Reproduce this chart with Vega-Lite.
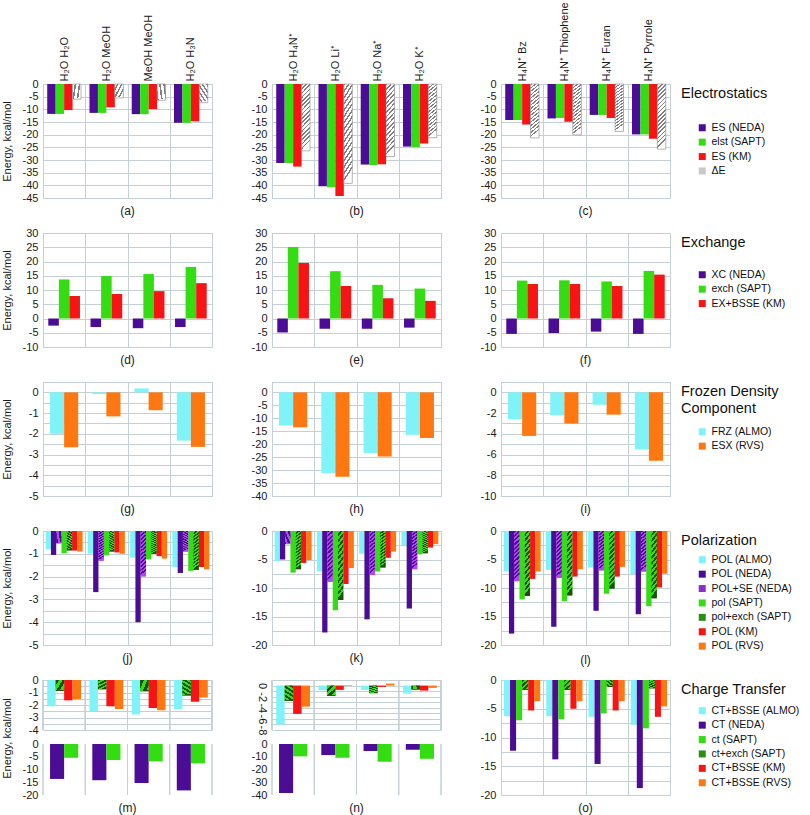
{
"$schema": "https://vega.github.io/schema/vega-lite/v6.json",
"padding": {"top": 1, "left": 0, "right": 0, "bottom": 0},
"autosize": {"type": "pad"},
"background": "white",
"params": [
{"name": "hatchDE", "value": {"gradient": "linear", "x1": 0, "y1": 0, "x2": 0.13, "y2": 1, "stops": [
{"offset":0,"color":"#808080"},{"offset":0.025,"color":"#808080"},{"offset":0.025,"color":"#FFFFFF"},{"offset":0.0625,"color":"#FFFFFF"},
{"offset":0.0625,"color":"#808080"},{"offset":0.0875,"color":"#808080"},{"offset":0.0875,"color":"#FFFFFF"},{"offset":0.125,"color":"#FFFFFF"},
{"offset":0.125,"color":"#808080"},{"offset":0.15,"color":"#808080"},{"offset":0.15,"color":"#FFFFFF"},{"offset":0.1875,"color":"#FFFFFF"},
{"offset":0.1875,"color":"#808080"},{"offset":0.2125,"color":"#808080"},{"offset":0.2125,"color":"#FFFFFF"},{"offset":0.25,"color":"#FFFFFF"},
{"offset":0.25,"color":"#808080"},{"offset":0.275,"color":"#808080"},{"offset":0.275,"color":"#FFFFFF"},{"offset":0.3125,"color":"#FFFFFF"},
{"offset":0.3125,"color":"#808080"},{"offset":0.3375,"color":"#808080"},{"offset":0.3375,"color":"#FFFFFF"},{"offset":0.375,"color":"#FFFFFF"},
{"offset":0.375,"color":"#808080"},{"offset":0.4,"color":"#808080"},{"offset":0.4,"color":"#FFFFFF"},{"offset":0.4375,"color":"#FFFFFF"},
{"offset":0.4375,"color":"#808080"},{"offset":0.4625,"color":"#808080"},{"offset":0.4625,"color":"#FFFFFF"},{"offset":0.5,"color":"#FFFFFF"},
{"offset":0.5,"color":"#808080"},{"offset":0.525,"color":"#808080"},{"offset":0.525,"color":"#FFFFFF"},{"offset":0.5625,"color":"#FFFFFF"},
{"offset":0.5625,"color":"#808080"},{"offset":0.5875,"color":"#808080"},{"offset":0.5875,"color":"#FFFFFF"},{"offset":0.625,"color":"#FFFFFF"},
{"offset":0.625,"color":"#808080"},{"offset":0.65,"color":"#808080"},{"offset":0.65,"color":"#FFFFFF"},{"offset":0.6875,"color":"#FFFFFF"},
{"offset":0.6875,"color":"#808080"},{"offset":0.7125,"color":"#808080"},{"offset":0.7125,"color":"#FFFFFF"},{"offset":0.75,"color":"#FFFFFF"},
{"offset":0.75,"color":"#808080"},{"offset":0.775,"color":"#808080"},{"offset":0.775,"color":"#FFFFFF"},{"offset":0.8125,"color":"#FFFFFF"},
{"offset":0.8125,"color":"#808080"},{"offset":0.8375,"color":"#808080"},{"offset":0.8375,"color":"#FFFFFF"},{"offset":0.875,"color":"#FFFFFF"},
{"offset":0.875,"color":"#808080"},{"offset":0.9,"color":"#808080"},{"offset":0.9,"color":"#FFFFFF"},{"offset":0.9375,"color":"#FFFFFF"},
{"offset":0.9375,"color":"#808080"},{"offset":0.9625,"color":"#808080"},{"offset":0.9625,"color":"#FFFFFF"},{"offset":1,"color":"#FFFFFF"}]}},
{"name": "hatchPurple", "value": {"gradient": "linear", "x1": 0, "y1": 0, "x2": 0.1, "y2": 1, "stops": [
{"offset":0,"color":"#4B0C96"},{"offset":0.0417,"color":"#4B0C96"},{"offset":0.0417,"color":"#B845F5"},{"offset":0.0833,"color":"#B845F5"},
{"offset":0.0833,"color":"#4B0C96"},{"offset":0.125,"color":"#4B0C96"},{"offset":0.125,"color":"#B845F5"},{"offset":0.1667,"color":"#B845F5"},
{"offset":0.1667,"color":"#4B0C96"},{"offset":0.2083,"color":"#4B0C96"},{"offset":0.2083,"color":"#B845F5"},{"offset":0.25,"color":"#B845F5"},
{"offset":0.25,"color":"#4B0C96"},{"offset":0.2917,"color":"#4B0C96"},{"offset":0.2917,"color":"#B845F5"},{"offset":0.3333,"color":"#B845F5"},
{"offset":0.3333,"color":"#4B0C96"},{"offset":0.375,"color":"#4B0C96"},{"offset":0.375,"color":"#B845F5"},{"offset":0.4167,"color":"#B845F5"},
{"offset":0.4167,"color":"#4B0C96"},{"offset":0.4583,"color":"#4B0C96"},{"offset":0.4583,"color":"#B845F5"},{"offset":0.5,"color":"#B845F5"},
{"offset":0.5,"color":"#4B0C96"},{"offset":0.5417,"color":"#4B0C96"},{"offset":0.5417,"color":"#B845F5"},{"offset":0.5833,"color":"#B845F5"},
{"offset":0.5833,"color":"#4B0C96"},{"offset":0.625,"color":"#4B0C96"},{"offset":0.625,"color":"#B845F5"},{"offset":0.6667,"color":"#B845F5"},
{"offset":0.6667,"color":"#4B0C96"},{"offset":0.7083,"color":"#4B0C96"},{"offset":0.7083,"color":"#B845F5"},{"offset":0.75,"color":"#B845F5"},
{"offset":0.75,"color":"#4B0C96"},{"offset":0.7917,"color":"#4B0C96"},{"offset":0.7917,"color":"#B845F5"},{"offset":0.8333,"color":"#B845F5"},
{"offset":0.8333,"color":"#4B0C96"},{"offset":0.875,"color":"#4B0C96"},{"offset":0.875,"color":"#B845F5"},{"offset":0.9167,"color":"#B845F5"},
{"offset":0.9167,"color":"#4B0C96"},{"offset":0.9583,"color":"#4B0C96"},{"offset":0.9583,"color":"#B845F5"},{"offset":1,"color":"#B845F5"}]}},
{"name": "hatchGreen", "value": {"gradient": "linear", "x1": 0, "y1": 0, "x2": 0.1, "y2": 1, "stops": [
{"offset":0,"color":"#33DD11"},{"offset":0.0417,"color":"#33DD11"},{"offset":0.0417,"color":"#1B4F0B"},{"offset":0.0833,"color":"#1B4F0B"},
{"offset":0.0833,"color":"#33DD11"},{"offset":0.125,"color":"#33DD11"},{"offset":0.125,"color":"#1B4F0B"},{"offset":0.1667,"color":"#1B4F0B"},
{"offset":0.1667,"color":"#33DD11"},{"offset":0.2083,"color":"#33DD11"},{"offset":0.2083,"color":"#1B4F0B"},{"offset":0.25,"color":"#1B4F0B"},
{"offset":0.25,"color":"#33DD11"},{"offset":0.2917,"color":"#33DD11"},{"offset":0.2917,"color":"#1B4F0B"},{"offset":0.3333,"color":"#1B4F0B"},
{"offset":0.3333,"color":"#33DD11"},{"offset":0.375,"color":"#33DD11"},{"offset":0.375,"color":"#1B4F0B"},{"offset":0.4167,"color":"#1B4F0B"},
{"offset":0.4167,"color":"#33DD11"},{"offset":0.4583,"color":"#33DD11"},{"offset":0.4583,"color":"#1B4F0B"},{"offset":0.5,"color":"#1B4F0B"},
{"offset":0.5,"color":"#33DD11"},{"offset":0.5417,"color":"#33DD11"},{"offset":0.5417,"color":"#1B4F0B"},{"offset":0.5833,"color":"#1B4F0B"},
{"offset":0.5833,"color":"#33DD11"},{"offset":0.625,"color":"#33DD11"},{"offset":0.625,"color":"#1B4F0B"},{"offset":0.6667,"color":"#1B4F0B"},
{"offset":0.6667,"color":"#33DD11"},{"offset":0.7083,"color":"#33DD11"},{"offset":0.7083,"color":"#1B4F0B"},{"offset":0.75,"color":"#1B4F0B"},
{"offset":0.75,"color":"#33DD11"},{"offset":0.7917,"color":"#33DD11"},{"offset":0.7917,"color":"#1B4F0B"},{"offset":0.8333,"color":"#1B4F0B"},
{"offset":0.8333,"color":"#33DD11"},{"offset":0.875,"color":"#33DD11"},{"offset":0.875,"color":"#1B4F0B"},{"offset":0.9167,"color":"#1B4F0B"},
{"offset":0.9167,"color":"#33DD11"},{"offset":0.9583,"color":"#33DD11"},{"offset":0.9583,"color":"#1B4F0B"},{"offset":1,"color":"#1B4F0B"}]}}
],
"datasets": {
"es": [
{"panel":"a","pair":"H₂O H₂O","method":"ES (NEDA)","value":-11.8},{"panel":"a","pair":"H₂O H₂O","method":"elst (SAPT)","value":-11.8},{"panel":"a","pair":"H₂O H₂O","method":"ES (KM)","value":-10.3},{"panel":"a","pair":"H₂O H₂O","method":"ΔE","value":-6.0},
{"panel":"a","pair":"H₂O MeOH","method":"ES (NEDA)","value":-11.4},{"panel":"a","pair":"H₂O MeOH","method":"elst (SAPT)","value":-11.4},{"panel":"a","pair":"H₂O MeOH","method":"ES (KM)","value":-9.2},{"panel":"a","pair":"H₂O MeOH","method":"ΔE","value":-5.5},
{"panel":"a","pair":"MeOH MeOH","method":"ES (NEDA)","value":-11.9},{"panel":"a","pair":"MeOH MeOH","method":"elst (SAPT)","value":-11.9},{"panel":"a","pair":"MeOH MeOH","method":"ES (KM)","value":-9.9},{"panel":"a","pair":"MeOH MeOH","method":"ΔE","value":-6.4},
{"panel":"a","pair":"H₂O H₃N","method":"ES (NEDA)","value":-15.3},{"panel":"a","pair":"H₂O H₃N","method":"elst (SAPT)","value":-15.3},{"panel":"a","pair":"H₂O H₃N","method":"ES (KM)","value":-14.7},{"panel":"a","pair":"H₂O H₃N","method":"ΔE","value":-7.4},
{"panel":"b","pair":"H₂O H₄N⁺","method":"ES (NEDA)","value":-31.2},{"panel":"b","pair":"H₂O H₄N⁺","method":"elst (SAPT)","value":-31.2},{"panel":"b","pair":"H₂O H₄N⁺","method":"ES (KM)","value":-32.6},{"panel":"b","pair":"H₂O H₄N⁺","method":"ΔE","value":-26.4},
{"panel":"b","pair":"H₂O Li⁺","method":"ES (NEDA)","value":-40.4},{"panel":"b","pair":"H₂O Li⁺","method":"elst (SAPT)","value":-40.8},{"panel":"b","pair":"H₂O Li⁺","method":"ES (KM)","value":-44.2},{"panel":"b","pair":"H₂O Li⁺","method":"ΔE","value":-39.2},
{"panel":"b","pair":"H₂O Na⁺","method":"ES (NEDA)","value":-31.8},{"panel":"b","pair":"H₂O Na⁺","method":"elst (SAPT)","value":-32.0},{"panel":"b","pair":"H₂O Na⁺","method":"ES (KM)","value":-31.7},{"panel":"b","pair":"H₂O Na⁺","method":"ΔE","value":-28.6},
{"panel":"b","pair":"H₂O K⁺","method":"ES (NEDA)","value":-24.7},{"panel":"b","pair":"H₂O K⁺","method":"elst (SAPT)","value":-24.9},{"panel":"b","pair":"H₂O K⁺","method":"ES (KM)","value":-23.5},{"panel":"b","pair":"H₂O K⁺","method":"ΔE","value":-21.2},
{"panel":"c","pair":"H₄N⁺ Bz","method":"ES (NEDA)","value":-14.2},{"panel":"c","pair":"H₄N⁺ Bz","method":"elst (SAPT)","value":-14.2},{"panel":"c","pair":"H₄N⁺ Bz","method":"ES (KM)","value":-16.0},{"panel":"c","pair":"H₄N⁺ Bz","method":"ΔE","value":-21.3},
{"panel":"c","pair":"H₄N⁺ Thiophene","method":"ES (NEDA)","value":-13.6},{"panel":"c","pair":"H₄N⁺ Thiophene","method":"elst (SAPT)","value":-13.4},{"panel":"c","pair":"H₄N⁺ Thiophene","method":"ES (KM)","value":-14.9},{"panel":"c","pair":"H₄N⁺ Thiophene","method":"ΔE","value":-20.1},
{"panel":"c","pair":"H₄N⁺ Furan","method":"ES (NEDA)","value":-12.2},{"panel":"c","pair":"H₄N⁺ Furan","method":"elst (SAPT)","value":-12.2},{"panel":"c","pair":"H₄N⁺ Furan","method":"ES (KM)","value":-13.4},{"panel":"c","pair":"H₄N⁺ Furan","method":"ΔE","value":-18.7},
{"panel":"c","pair":"H₄N⁺ Pyrrole","method":"ES (NEDA)","value":-19.9},{"panel":"c","pair":"H₄N⁺ Pyrrole","method":"elst (SAPT)","value":-19.9},{"panel":"c","pair":"H₄N⁺ Pyrrole","method":"ES (KM)","value":-21.6},{"panel":"c","pair":"H₄N⁺ Pyrrole","method":"ΔE","value":-25.7}
],
"ex": [
{"panel":"d","pair":"H₂O H₂O","method":"XC (NEDA)","value":-2.5},{"panel":"d","pair":"H₂O H₂O","method":"exch (SAPT)","value":13.7},{"panel":"d","pair":"H₂O H₂O","method":"EX+BSSE (KM)","value":7.9},
{"panel":"d","pair":"H₂O MeOH","method":"XC (NEDA)","value":-3.0},{"panel":"d","pair":"H₂O MeOH","method":"exch (SAPT)","value":14.9},{"panel":"d","pair":"H₂O MeOH","method":"EX+BSSE (KM)","value":8.6},
{"panel":"d","pair":"MeOH MeOH","method":"XC (NEDA)","value":-3.4},{"panel":"d","pair":"MeOH MeOH","method":"exch (SAPT)","value":15.6},{"panel":"d","pair":"MeOH MeOH","method":"EX+BSSE (KM)","value":9.6},
{"panel":"d","pair":"H₂O H₃N","method":"XC (NEDA)","value":-3.0},{"panel":"d","pair":"H₂O H₃N","method":"exch (SAPT)","value":18.1},{"panel":"d","pair":"H₂O H₃N","method":"EX+BSSE (KM)","value":12.4},
{"panel":"e","pair":"H₂O H₄N⁺","method":"XC (NEDA)","value":-4.9},{"panel":"e","pair":"H₂O H₄N⁺","method":"exch (SAPT)","value":25.1},{"panel":"e","pair":"H₂O H₄N⁺","method":"EX+BSSE (KM)","value":19.5},
{"panel":"e","pair":"H₂O Li⁺","method":"XC (NEDA)","value":-3.6},{"panel":"e","pair":"H₂O Li⁺","method":"exch (SAPT)","value":16.6},{"panel":"e","pair":"H₂O Li⁺","method":"EX+BSSE (KM)","value":11.4},
{"panel":"e","pair":"H₂O Na⁺","method":"XC (NEDA)","value":-3.6},{"panel":"e","pair":"H₂O Na⁺","method":"exch (SAPT)","value":11.8},{"panel":"e","pair":"H₂O Na⁺","method":"EX+BSSE (KM)","value":7.1},
{"panel":"e","pair":"H₂O K⁺","method":"XC (NEDA)","value":-3.2},{"panel":"e","pair":"H₂O K⁺","method":"exch (SAPT)","value":10.5},{"panel":"e","pair":"H₂O K⁺","method":"EX+BSSE (KM)","value":6.2},
{"panel":"f","pair":"H₄N⁺ Bz","method":"XC (NEDA)","value":-5.4},{"panel":"f","pair":"H₄N⁺ Bz","method":"exch (SAPT)","value":13.3},{"panel":"f","pair":"H₄N⁺ Bz","method":"EX+BSSE (KM)","value":12.1},
{"panel":"f","pair":"H₄N⁺ Thiophene","method":"XC (NEDA)","value":-5.1},{"panel":"f","pair":"H₄N⁺ Thiophene","method":"exch (SAPT)","value":13.4},{"panel":"f","pair":"H₄N⁺ Thiophene","method":"EX+BSSE (KM)","value":12.1},
{"panel":"f","pair":"H₄N⁺ Furan","method":"XC (NEDA)","value":-4.6},{"panel":"f","pair":"H₄N⁺ Furan","method":"exch (SAPT)","value":13.0},{"panel":"f","pair":"H₄N⁺ Furan","method":"EX+BSSE (KM)","value":11.4},
{"panel":"f","pair":"H₄N⁺ Pyrrole","method":"XC (NEDA)","value":-5.4},{"panel":"f","pair":"H₄N⁺ Pyrrole","method":"exch (SAPT)","value":16.7},{"panel":"f","pair":"H₄N⁺ Pyrrole","method":"EX+BSSE (KM)","value":15.4}
],
"frz": [
{"panel":"g","pair":"H₂O H₂O","method":"FRZ (ALMO)","value":-2.0},{"panel":"g","pair":"H₂O H₂O","method":"ESX (RVS)","value":-2.65},
{"panel":"g","pair":"H₂O MeOH","method":"FRZ (ALMO)","value":-0.08},{"panel":"g","pair":"H₂O MeOH","method":"ESX (RVS)","value":-1.16},
{"panel":"g","pair":"MeOH MeOH","method":"FRZ (ALMO)","value":0.19},{"panel":"g","pair":"MeOH MeOH","method":"ESX (RVS)","value":-0.86},
{"panel":"g","pair":"H₂O H₃N","method":"FRZ (ALMO)","value":-2.33},{"panel":"g","pair":"H₂O H₃N","method":"ESX (RVS)","value":-2.63},
{"panel":"h","pair":"H₂O H₄N⁺","method":"FRZ (ALMO)","value":-12.8},{"panel":"h","pair":"H₂O H₄N⁺","method":"ESX (RVS)","value":-13.5},
{"panel":"h","pair":"H₂O Li⁺","method":"FRZ (ALMO)","value":-31.1},{"panel":"h","pair":"H₂O Li⁺","method":"ESX (RVS)","value":-32.6},
{"panel":"h","pair":"H₂O Na⁺","method":"FRZ (ALMO)","value":-23.4},{"panel":"h","pair":"H₂O Na⁺","method":"ESX (RVS)","value":-24.8},
{"panel":"h","pair":"H₂O K⁺","method":"FRZ (ALMO)","value":-16.4},{"panel":"h","pair":"H₂O K⁺","method":"ESX (RVS)","value":-17.6},
{"panel":"i","pair":"H₄N⁺ Bz","method":"FRZ (ALMO)","value":-2.6},{"panel":"i","pair":"H₄N⁺ Bz","method":"ESX (RVS)","value":-4.2},
{"panel":"i","pair":"H₄N⁺ Thiophene","method":"FRZ (ALMO)","value":-2.2},{"panel":"i","pair":"H₄N⁺ Thiophene","method":"ESX (RVS)","value":-3.0},
{"panel":"i","pair":"H₄N⁺ Furan","method":"FRZ (ALMO)","value":-1.2},{"panel":"i","pair":"H₄N⁺ Furan","method":"ESX (RVS)","value":-2.15},
{"panel":"i","pair":"H₄N⁺ Pyrrole","method":"FRZ (ALMO)","value":-5.5},{"panel":"i","pair":"H₄N⁺ Pyrrole","method":"ESX (RVS)","value":-6.6}
],
"pol": [
{"panel":"j","pair":"H₂O H₂O","method":"POL (ALMO)","value":-0.8},{"panel":"j","pair":"H₂O H₂O","method":"POL (NEDA)","value":-1.05},{"panel":"j","pair":"H₂O H₂O","method":"POL+SE (NEDA)","value":-0.54},{"panel":"j","pair":"H₂O H₂O","method":"pol (SAPT)","value":-0.98},{"panel":"j","pair":"H₂O H₂O","method":"pol+exch (SAPT)","value":-0.85},{"panel":"j","pair":"H₂O H₂O","method":"POL (KM)","value":-0.86},{"panel":"j","pair":"H₂O H₂O","method":"POL (RVS)","value":-0.9},
{"panel":"j","pair":"H₂O MeOH","method":"POL (ALMO)","value":-0.98},{"panel":"j","pair":"H₂O MeOH","method":"POL (NEDA)","value":-2.68},{"panel":"j","pair":"H₂O MeOH","method":"POL+SE (NEDA)","value":-1.3},{"panel":"j","pair":"H₂O MeOH","method":"pol (SAPT)","value":-1.07},{"panel":"j","pair":"H₂O MeOH","method":"pol+exch (SAPT)","value":-0.9},{"panel":"j","pair":"H₂O MeOH","method":"POL (KM)","value":-0.94},{"panel":"j","pair":"H₂O MeOH","method":"POL (RVS)","value":-1.0},
{"panel":"j","pair":"MeOH MeOH","method":"POL (ALMO)","value":-1.17},{"panel":"j","pair":"MeOH MeOH","method":"POL (NEDA)","value":-4.0},{"panel":"j","pair":"MeOH MeOH","method":"POL+SE (NEDA)","value":-1.99},{"panel":"j","pair":"MeOH MeOH","method":"pol (SAPT)","value":-1.24},{"panel":"j","pair":"MeOH MeOH","method":"pol+exch (SAPT)","value":-1.0},{"panel":"j","pair":"MeOH MeOH","method":"POL (KM)","value":-1.1},{"panel":"j","pair":"MeOH MeOH","method":"POL (RVS)","value":-1.21},
{"panel":"j","pair":"H₂O H₃N","method":"POL (ALMO)","value":-1.58},{"panel":"j","pair":"H₂O H₃N","method":"POL (NEDA)","value":-1.84},{"panel":"j","pair":"H₂O H₃N","method":"POL+SE (NEDA)","value":-0.9},{"panel":"j","pair":"H₂O H₃N","method":"pol (SAPT)","value":-1.75},{"panel":"j","pair":"H₂O H₃N","method":"pol+exch (SAPT)","value":-1.7},{"panel":"j","pair":"H₂O H₃N","method":"POL (KM)","value":-1.58},{"panel":"j","pair":"H₂O H₃N","method":"POL (RVS)","value":-1.68},
{"panel":"k","pair":"H₂O H₄N⁺","method":"POL (ALMO)","value":-5.3},{"panel":"k","pair":"H₂O H₄N⁺","method":"POL (NEDA)","value":-5.0},{"panel":"k","pair":"H₂O H₄N⁺","method":"POL+SE (NEDA)","value":-2.3},{"panel":"k","pair":"H₂O H₄N⁺","method":"pol (SAPT)","value":-7.3},{"panel":"k","pair":"H₂O H₄N⁺","method":"pol+exch (SAPT)","value":-6.7},{"panel":"k","pair":"H₂O H₄N⁺","method":"POL (KM)","value":-5.6},{"panel":"k","pair":"H₂O H₄N⁺","method":"POL (RVS)","value":-5.1},
{"panel":"k","pair":"H₂O Li⁺","method":"POL (ALMO)","value":-7.1},{"panel":"k","pair":"H₂O Li⁺","method":"POL (NEDA)","value":-17.8},{"panel":"k","pair":"H₂O Li⁺","method":"POL+SE (NEDA)","value":-8.9},{"panel":"k","pair":"H₂O Li⁺","method":"pol (SAPT)","value":-13.9},{"panel":"k","pair":"H₂O Li⁺","method":"pol+exch (SAPT)","value":-12.1},{"panel":"k","pair":"H₂O Li⁺","method":"POL (KM)","value":-9.3},{"panel":"k","pair":"H₂O Li⁺","method":"POL (RVS)","value":-6.5},
{"panel":"k","pair":"H₂O Na⁺","method":"POL (ALMO)","value":-4.0},{"panel":"k","pair":"H₂O Na⁺","method":"POL (NEDA)","value":-15.5},{"panel":"k","pair":"H₂O Na⁺","method":"POL+SE (NEDA)","value":-7.7},{"panel":"k","pair":"H₂O Na⁺","method":"pol (SAPT)","value":-7.1},{"panel":"k","pair":"H₂O Na⁺","method":"pol+exch (SAPT)","value":-6.4},{"panel":"k","pair":"H₂O Na⁺","method":"POL (KM)","value":-4.7},{"panel":"k","pair":"H₂O Na⁺","method":"POL (RVS)","value":-3.6},
{"panel":"k","pair":"H₂O K⁺","method":"POL (ALMO)","value":-2.5},{"panel":"k","pair":"H₂O K⁺","method":"POL (NEDA)","value":-13.6},{"panel":"k","pair":"H₂O K⁺","method":"POL+SE (NEDA)","value":-6.7},{"panel":"k","pair":"H₂O K⁺","method":"pol (SAPT)","value":-4.1},{"panel":"k","pair":"H₂O K⁺","method":"pol+exch (SAPT)","value":-3.9},{"panel":"k","pair":"H₂O K⁺","method":"POL (KM)","value":-2.9},{"panel":"k","pair":"H₂O K⁺","method":"POL (RVS)","value":-2.3},
{"panel":"l","pair":"H₄N⁺ Bz","method":"POL (ALMO)","value":-7.1},{"panel":"l","pair":"H₄N⁺ Bz","method":"POL (NEDA)","value":-18.0},{"panel":"l","pair":"H₄N⁺ Bz","method":"POL+SE (NEDA)","value":-8.8},{"panel":"l","pair":"H₄N⁺ Bz","method":"pol (SAPT)","value":-12.0},{"panel":"l","pair":"H₄N⁺ Bz","method":"pol+exch (SAPT)","value":-11.4},{"panel":"l","pair":"H₄N⁺ Bz","method":"POL (KM)","value":-8.4},{"panel":"l","pair":"H₄N⁺ Bz","method":"POL (RVS)","value":-7.1},
{"panel":"l","pair":"H₄N⁺ Thiophene","method":"POL (ALMO)","value":-6.8},{"panel":"l","pair":"H₄N⁺ Thiophene","method":"POL (NEDA)","value":-16.8},{"panel":"l","pair":"H₄N⁺ Thiophene","method":"POL+SE (NEDA)","value":-8.2},{"panel":"l","pair":"H₄N⁺ Thiophene","method":"pol (SAPT)","value":-12.3},{"panel":"l","pair":"H₄N⁺ Thiophene","method":"pol+exch (SAPT)","value":-11.3},{"panel":"l","pair":"H₄N⁺ Thiophene","method":"POL (KM)","value":-8.0},{"panel":"l","pair":"H₄N⁺ Thiophene","method":"POL (RVS)","value":-6.7},
{"panel":"l","pair":"H₄N⁺ Furan","method":"POL (ALMO)","value":-6.4},{"panel":"l","pair":"H₄N⁺ Furan","method":"POL (NEDA)","value":-14.0},{"panel":"l","pair":"H₄N⁺ Furan","method":"POL+SE (NEDA)","value":-6.9},{"panel":"l","pair":"H₄N⁺ Furan","method":"pol (SAPT)","value":-11.0},{"panel":"l","pair":"H₄N⁺ Furan","method":"pol+exch (SAPT)","value":-10.1},{"panel":"l","pair":"H₄N⁺ Furan","method":"POL (KM)","value":-8.0},{"panel":"l","pair":"H₄N⁺ Furan","method":"POL (RVS)","value":-6.3},
{"panel":"l","pair":"H₄N⁺ Pyrrole","method":"POL (ALMO)","value":-7.6},{"panel":"l","pair":"H₄N⁺ Pyrrole","method":"POL (NEDA)","value":-14.6},{"panel":"l","pair":"H₄N⁺ Pyrrole","method":"POL+SE (NEDA)","value":-7.1},{"panel":"l","pair":"H₄N⁺ Pyrrole","method":"pol (SAPT)","value":-13.2},{"panel":"l","pair":"H₄N⁺ Pyrrole","method":"pol+exch (SAPT)","value":-11.8},{"panel":"l","pair":"H₄N⁺ Pyrrole","method":"POL (KM)","value":-9.9},{"panel":"l","pair":"H₄N⁺ Pyrrole","method":"POL (RVS)","value":-7.5}
],
"ct": [
{"panel":"m","pair":"H₂O H₂O","method":"CT+BSSE (ALMO)","value":-2.1},{"panel":"m","pair":"H₂O H₂O","method":"CT (NEDA)","value":-13.7},{"panel":"m","pair":"H₂O H₂O","method":"ct (SAPT)","value":-5.4},{"panel":"m","pair":"H₂O H₂O","method":"ct+exch (SAPT)","value":-0.87},{"panel":"m","pair":"H₂O H₂O","method":"CT+BSSE (KM)","value":-1.63},{"panel":"m","pair":"H₂O H₂O","method":"CT+BSSE (RVS)","value":-1.53},
{"panel":"m","pair":"H₂O MeOH","method":"CT+BSSE (ALMO)","value":-2.5},{"panel":"m","pair":"H₂O MeOH","method":"CT (NEDA)","value":-14.2},{"panel":"m","pair":"H₂O MeOH","method":"ct (SAPT)","value":-6.3},{"panel":"m","pair":"H₂O MeOH","method":"ct+exch (SAPT)","value":-0.74},{"panel":"m","pair":"H₂O MeOH","method":"CT+BSSE (KM)","value":-2.1},{"panel":"m","pair":"H₂O MeOH","method":"CT+BSSE (RVS)","value":-2.32},
{"panel":"m","pair":"MeOH MeOH","method":"CT+BSSE (ALMO)","value":-2.76},{"panel":"m","pair":"MeOH MeOH","method":"CT (NEDA)","value":-15.3},{"panel":"m","pair":"MeOH MeOH","method":"ct (SAPT)","value":-6.8},{"panel":"m","pair":"MeOH MeOH","method":"ct+exch (SAPT)","value":-0.9},{"panel":"m","pair":"MeOH MeOH","method":"CT+BSSE (KM)","value":-2.24},{"panel":"m","pair":"MeOH MeOH","method":"CT+BSSE (RVS)","value":-2.42},
{"panel":"m","pair":"H₂O H₃N","method":"CT+BSSE (ALMO)","value":-2.32},{"panel":"m","pair":"H₂O H₃N","method":"CT (NEDA)","value":-18.2},{"panel":"m","pair":"H₂O H₃N","method":"ct (SAPT)","value":-7.6},{"panel":"m","pair":"H₂O H₃N","method":"ct+exch (SAPT)","value":-1.24},{"panel":"m","pair":"H₂O H₃N","method":"CT+BSSE (KM)","value":-1.74},{"panel":"m","pair":"H₂O H₃N","method":"CT+BSSE (RVS)","value":-1.4},
{"panel":"n","pair":"H₂O H₄N⁺","method":"CT+BSSE (ALMO)","value":-7.0},{"panel":"n","pair":"H₂O H₄N⁺","method":"CT (NEDA)","value":-38.4},{"panel":"n","pair":"H₂O H₄N⁺","method":"ct (SAPT)","value":-9.7},{"panel":"n","pair":"H₂O H₄N⁺","method":"ct+exch (SAPT)","value":-2.75},{"panel":"n","pair":"H₂O H₄N⁺","method":"CT+BSSE (KM)","value":-5.1},{"panel":"n","pair":"H₂O H₄N⁺","method":"CT+BSSE (RVS)","value":-3.8},
{"panel":"n","pair":"H₂O Li⁺","method":"CT+BSSE (ALMO)","value":-0.84},{"panel":"n","pair":"H₂O Li⁺","method":"CT (NEDA)","value":-8.7},{"panel":"n","pair":"H₂O Li⁺","method":"ct (SAPT)","value":-10.8},{"panel":"n","pair":"H₂O Li⁺","method":"ct+exch (SAPT)","value":-1.85},{"panel":"n","pair":"H₂O Li⁺","method":"CT+BSSE (KM)","value":-0.78},{"panel":"n","pair":"H₂O Li⁺","method":"CT+BSSE (RVS)","value":0.1},
{"panel":"n","pair":"H₂O Na⁺","method":"CT+BSSE (ALMO)","value":-0.78},{"panel":"n","pair":"H₂O Na⁺","method":"CT (NEDA)","value":-5.5},{"panel":"n","pair":"H₂O Na⁺","method":"ct (SAPT)","value":-13.9},{"panel":"n","pair":"H₂O Na⁺","method":"ct+exch (SAPT)","value":-1.37},{"panel":"n","pair":"H₂O Na⁺","method":"CT+BSSE (KM)","value":-0.24},{"panel":"n","pair":"H₂O Na⁺","method":"CT+BSSE (RVS)","value":0.36},
{"panel":"n","pair":"H₂O K⁺","method":"CT+BSSE (ALMO)","value":-1.43},{"panel":"n","pair":"H₂O K⁺","method":"CT (NEDA)","value":-4.5},{"panel":"n","pair":"H₂O K⁺","method":"ct (SAPT)","value":-11.6},{"panel":"n","pair":"H₂O K⁺","method":"ct+exch (SAPT)","value":-0.72},{"panel":"n","pair":"H₂O K⁺","method":"CT+BSSE (KM)","value":-0.9},{"panel":"n","pair":"H₂O K⁺","method":"CT+BSSE (RVS)","value":-0.42},
{"panel":"o","pair":"H₄N⁺ Bz","method":"CT+BSSE (ALMO)","value":-6.3},{"panel":"o","pair":"H₄N⁺ Bz","method":"CT (NEDA)","value":-12.3},{"panel":"o","pair":"H₄N⁺ Bz","method":"ct (SAPT)","value":-7.0},{"panel":"o","pair":"H₄N⁺ Bz","method":"ct+exch (SAPT)","value":-1.7},{"panel":"o","pair":"H₄N⁺ Bz","method":"CT+BSSE (KM)","value":-5.3},{"panel":"o","pair":"H₄N⁺ Bz","method":"CT+BSSE (RVS)","value":-3.7},
{"panel":"o","pair":"H₄N⁺ Thiophene","method":"CT+BSSE (ALMO)","value":-6.3},{"panel":"o","pair":"H₄N⁺ Thiophene","method":"CT (NEDA)","value":-13.8},{"panel":"o","pair":"H₄N⁺ Thiophene","method":"ct (SAPT)","value":-6.8},{"panel":"o","pair":"H₄N⁺ Thiophene","method":"ct+exch (SAPT)","value":-1.7},{"panel":"o","pair":"H₄N⁺ Thiophene","method":"CT+BSSE (KM)","value":-5.0},{"panel":"o","pair":"H₄N⁺ Thiophene","method":"CT+BSSE (RVS)","value":-3.7},
{"panel":"o","pair":"H₄N⁺ Furan","method":"CT+BSSE (ALMO)","value":-6.4},{"panel":"o","pair":"H₄N⁺ Furan","method":"CT (NEDA)","value":-14.6},{"panel":"o","pair":"H₄N⁺ Furan","method":"ct (SAPT)","value":-5.8},{"panel":"o","pair":"H₄N⁺ Furan","method":"ct+exch (SAPT)","value":-1.2},{"panel":"o","pair":"H₄N⁺ Furan","method":"CT+BSSE (KM)","value":-5.3},{"panel":"o","pair":"H₄N⁺ Furan","method":"CT+BSSE (RVS)","value":-3.7},
{"panel":"o","pair":"H₄N⁺ Pyrrole","method":"CT+BSSE (ALMO)","value":-7.8},{"panel":"o","pair":"H₄N⁺ Pyrrole","method":"CT (NEDA)","value":-18.8},{"panel":"o","pair":"H₄N⁺ Pyrrole","method":"ct (SAPT)","value":-8.4},{"panel":"o","pair":"H₄N⁺ Pyrrole","method":"ct+exch (SAPT)","value":-1.45},{"panel":"o","pair":"H₄N⁺ Pyrrole","method":"CT+BSSE (KM)","value":-6.4},{"panel":"o","pair":"H₄N⁺ Pyrrole","method":"CT+BSSE (RVS)","value":-4.6}
]
},
"concat": [
{"width": 169, "height": 114, "data": {"name": "es"},
 "title": {"text": "(a)", "orient": "bottom", "offset": 3},
 "transform": [{"filter": "datum.panel === 'a'"}],
 "encoding": {
  "x": {"field": "pair", "type": "nominal", "sort": null, "scale": {"paddingInner": 0, "paddingOuter": 0}, "axis": {"orient": "top", "labels": true, "labelAngle": -90, "labelPadding": 3, "grid": true, "tickBand": "extent", "title": null, "domain": false, "ticks": false}},
  "xOffset": {"field": "method", "type": "nominal", "sort": null, "scale": {"domain": ["ES (NEDA)", "elst (SAPT)", "ES (KM)", "ΔE"], "paddingInner": 0, "paddingOuter": 0.5}},
  "y": {"field": "value", "type": "quantitative", "stack": null, "scale": {"domain": [-45, 0], "nice": false}, "axis": {"title": "Energy, kcal/mol", "values": [0,-5,-10,-15,-20,-25,-30,-35,-40,-45], "labelExpr": "toString(datum.value)"}}
 },
 "layer": [
  {"mark": {"type": "bar"}, "encoding": {"color": {"field": "method", "type": "nominal", "scale": {"domain": ["ES (NEDA)", "elst (SAPT)", "ES (KM)", "ΔE"], "range": ["#4B0C96", "#33DD11", "#F81414", "#C8C8C8"]}, "legend": null}}},
  {"transform": [{"filter": "datum.method === 'ΔE'"}], "mark": {"type": "bar", "fill": {"expr": "hatchDE"}, "stroke": "#8A8A8A", "strokeWidth": 0.6}}
 ]},
{"width": 169, "height": 114, "data": {"name": "es"},
 "title": {"text": "(b)", "orient": "bottom", "offset": 3},
 "transform": [{"filter": "datum.panel === 'b'"}],
 "encoding": {
  "x": {"field": "pair", "type": "nominal", "sort": null, "scale": {"paddingInner": 0, "paddingOuter": 0}, "axis": {"orient": "top", "labels": true, "labelAngle": -90, "labelPadding": 3, "grid": true, "tickBand": "extent", "title": null, "domain": false, "ticks": false}},
  "xOffset": {"field": "method", "type": "nominal", "sort": null, "scale": {"domain": ["ES (NEDA)", "elst (SAPT)", "ES (KM)", "ΔE"], "paddingInner": 0, "paddingOuter": 0.5}},
  "y": {"field": "value", "type": "quantitative", "stack": null, "scale": {"domain": [-45, 0], "nice": false}, "axis": {"title": null, "values": [0,-5,-10,-15,-20,-25,-30,-35,-40,-45], "labelExpr": "toString(datum.value)"}}
 },
 "layer": [
  {"mark": {"type": "bar"}, "encoding": {"color": {"field": "method", "type": "nominal", "scale": {"domain": ["ES (NEDA)", "elst (SAPT)", "ES (KM)", "ΔE"], "range": ["#4B0C96", "#33DD11", "#F81414", "#C8C8C8"]}, "legend": null}}},
  {"transform": [{"filter": "datum.method === 'ΔE'"}], "mark": {"type": "bar", "fill": {"expr": "hatchDE"}, "stroke": "#8A8A8A", "strokeWidth": 0.6}}
 ]},
{"width": 169, "height": 114, "data": {"name": "es"},
 "title": {"text": "(c)", "orient": "bottom", "offset": 3},
 "transform": [{"filter": "datum.panel === 'c'"}],
 "encoding": {
  "x": {"field": "pair", "type": "nominal", "sort": null, "scale": {"paddingInner": 0, "paddingOuter": 0}, "axis": {"orient": "top", "labels": true, "labelAngle": -90, "labelPadding": 3, "grid": true, "tickBand": "extent", "title": null, "domain": false, "ticks": false}},
  "xOffset": {"field": "method", "type": "nominal", "sort": null, "scale": {"domain": ["ES (NEDA)", "elst (SAPT)", "ES (KM)", "ΔE"], "paddingInner": 0, "paddingOuter": 0.5}},
  "y": {"field": "value", "type": "quantitative", "stack": null, "scale": {"domain": [-45, 0], "nice": false}, "axis": {"title": null, "values": [0,-5,-10,-15,-20,-25,-30,-35,-40,-45], "labelExpr": "toString(datum.value)"}}
 },
 "layer": [
  {"mark": {"type": "bar"}, "encoding": {"color": {"field": "method", "type": "nominal", "scale": {"domain": ["ES (NEDA)", "elst (SAPT)", "ES (KM)", "ΔE"], "range": ["#4B0C96", "#33DD11", "#F81414", "#C8C8C8"]}, "legend": {"title": "Electrostatics", "titlePadding": 24, "encode": {"title": {"update": {"dx": {"value": -16}, "dy": {"value": 3}}}}}}}},
  {"transform": [{"filter": "datum.method === 'ΔE'"}], "mark": {"type": "bar", "fill": {"expr": "hatchDE"}, "stroke": "#8A8A8A", "strokeWidth": 0.6}}
 ]},
{"width": 169, "height": 114, "data": {"name": "ex"},
 "title": {"text": "(d)", "orient": "bottom", "offset": 3},
 "transform": [{"filter": "datum.panel === 'd'"}],
 "mark": {"type": "bar"},
 "encoding": {
  "x": {"field": "pair", "type": "nominal", "sort": null, "scale": {"paddingInner": 0, "paddingOuter": 0}, "axis": {"labels": false, "grid": true, "tickBand": "extent", "title": null, "domain": false, "ticks": false}},
  "xOffset": {"field": "method", "type": "nominal", "sort": null, "scale": {"domain": ["XC (NEDA)", "exch (SAPT)", "EX+BSSE (KM)"], "paddingInner": 0, "paddingOuter": 0.5}},
  "y": {"field": "value", "type": "quantitative", "stack": null, "scale": {"domain": [-10, 30], "nice": false}, "axis": {"title": "Energy, kcal/mol", "values": [30,25,20,15,10,5,0,-5,-10], "labelExpr": "toString(datum.value)"}},
  "color": {"field": "method", "type": "nominal", "scale": {"domain": ["XC (NEDA)", "exch (SAPT)", "EX+BSSE (KM)"], "range": ["#4B0C96", "#33DD11", "#F81414"]}, "legend": null}
 }},
{"width": 169, "height": 114, "data": {"name": "ex"},
 "title": {"text": "(e)", "orient": "bottom", "offset": 3},
 "transform": [{"filter": "datum.panel === 'e'"}],
 "mark": {"type": "bar"},
 "encoding": {
  "x": {"field": "pair", "type": "nominal", "sort": null, "scale": {"paddingInner": 0, "paddingOuter": 0}, "axis": {"labels": false, "grid": true, "tickBand": "extent", "title": null, "domain": false, "ticks": false}},
  "xOffset": {"field": "method", "type": "nominal", "sort": null, "scale": {"domain": ["XC (NEDA)", "exch (SAPT)", "EX+BSSE (KM)"], "paddingInner": 0, "paddingOuter": 0.5}},
  "y": {"field": "value", "type": "quantitative", "stack": null, "scale": {"domain": [-10, 30], "nice": false}, "axis": {"title": null, "values": [30,25,20,15,10,5,0,-5,-10], "labelExpr": "toString(datum.value)"}},
  "color": {"field": "method", "type": "nominal", "scale": {"domain": ["XC (NEDA)", "exch (SAPT)", "EX+BSSE (KM)"], "range": ["#4B0C96", "#33DD11", "#F81414"]}, "legend": null}
 }},
{"width": 169, "height": 114, "data": {"name": "ex"},
 "title": {"text": "(f)", "orient": "bottom", "offset": 3},
 "transform": [{"filter": "datum.panel === 'f'"}],
 "mark": {"type": "bar"},
 "encoding": {
  "x": {"field": "pair", "type": "nominal", "sort": null, "scale": {"paddingInner": 0, "paddingOuter": 0}, "axis": {"labels": false, "grid": true, "tickBand": "extent", "title": null, "domain": false, "ticks": false}},
  "xOffset": {"field": "method", "type": "nominal", "sort": null, "scale": {"domain": ["XC (NEDA)", "exch (SAPT)", "EX+BSSE (KM)"], "paddingInner": 0, "paddingOuter": 0.5}},
  "y": {"field": "value", "type": "quantitative", "stack": null, "scale": {"domain": [-10, 30], "nice": false}, "axis": {"title": null, "values": [30,25,20,15,10,5,0,-5,-10], "labelExpr": "toString(datum.value)"}},
  "color": {"field": "method", "type": "nominal", "scale": {"domain": ["XC (NEDA)", "exch (SAPT)", "EX+BSSE (KM)"], "range": ["#4B0C96", "#33DD11", "#F81414"]}, "legend": {"title": "Exchange", "titlePadding": 22, "encode": {"title": {"update": {"dx": {"value": -16}, "dy": {"value": 3}}}}}}
 }},
{"width": 169, "height": 114, "data": {"name": "frz"},
 "title": {"text": "(g)", "orient": "bottom", "offset": 3},
 "transform": [{"filter": "datum.panel === 'g'"}],
 "mark": {"type": "bar"},
 "encoding": {
  "x": {"field": "pair", "type": "nominal", "sort": null, "scale": {"paddingInner": 0, "paddingOuter": 0}, "axis": {"labels": false, "grid": true, "tickBand": "extent", "title": null, "domain": false, "ticks": false}},
  "xOffset": {"field": "method", "type": "nominal", "sort": null, "scale": {"domain": ["FRZ (ALMO)", "ESX (RVS)"], "paddingInner": 0, "paddingOuter": 0.5}},
  "y": {"field": "value", "type": "quantitative", "stack": null, "scale": {"domain": [-5, 0.5], "nice": false}, "axis": {"title": "Energy, kcal/mol", "values": [0.5,0,-0.5,-1,-1.5,-2,-2.5,-3,-3.5,-4,-4.5,-5], "labelExpr": "datum.value % 1 === 0 ? toString(datum.value) : ''"}},
  "color": {"field": "method", "type": "nominal", "scale": {"domain": ["FRZ (ALMO)", "ESX (RVS)"], "range": ["#7FF3F8", "#FF7711"]}, "legend": null}
 }},
{"width": 169, "height": 114, "data": {"name": "frz"},
 "title": {"text": "(h)", "orient": "bottom", "offset": 3},
 "transform": [{"filter": "datum.panel === 'h'"}],
 "mark": {"type": "bar"},
 "encoding": {
  "x": {"field": "pair", "type": "nominal", "sort": null, "scale": {"paddingInner": 0, "paddingOuter": 0}, "axis": {"labels": false, "grid": true, "tickBand": "extent", "title": null, "domain": false, "ticks": false}},
  "xOffset": {"field": "method", "type": "nominal", "sort": null, "scale": {"domain": ["FRZ (ALMO)", "ESX (RVS)"], "paddingInner": 0, "paddingOuter": 0.5}},
  "y": {"field": "value", "type": "quantitative", "stack": null, "scale": {"domain": [-40, 4], "nice": false}, "axis": {"title": null, "values": [0,-5,-10,-15,-20,-25,-30,-35,-40], "labelExpr": "toString(datum.value)"}},
  "color": {"field": "method", "type": "nominal", "scale": {"domain": ["FRZ (ALMO)", "ESX (RVS)"], "range": ["#7FF3F8", "#FF7711"]}, "legend": null}
 }},
{"width": 169, "height": 114, "data": {"name": "frz"},
 "title": {"text": "(i)", "orient": "bottom", "offset": 3},
 "transform": [{"filter": "datum.panel === 'i'"}],
 "mark": {"type": "bar"},
 "encoding": {
  "x": {"field": "pair", "type": "nominal", "sort": null, "scale": {"paddingInner": 0, "paddingOuter": 0}, "axis": {"labels": false, "grid": true, "tickBand": "extent", "title": null, "domain": false, "ticks": false}},
  "xOffset": {"field": "method", "type": "nominal", "sort": null, "scale": {"domain": ["FRZ (ALMO)", "ESX (RVS)"], "paddingInner": 0, "paddingOuter": 0.5}},
  "y": {"field": "value", "type": "quantitative", "stack": null, "scale": {"domain": [-10, 1], "nice": false}, "axis": {"title": null, "values": [1,0,-1,-2,-3,-4,-5,-6,-7,-8,-9,-10], "labelExpr": "datum.value % 2 === 0 ? toString(datum.value) : ''"}},
  "color": {"field": "method", "type": "nominal", "scale": {"domain": ["FRZ (ALMO)", "ESX (RVS)"], "range": ["#7FF3F8", "#FF7711"]}, "legend": {"title": ["Frozen Density", "Component"], "titleLineHeight": 17, "titlePadding": 13, "encode": {"title": {"update": {"dx": {"value": -16}, "dy": {"value": 3}}}}}}
 }},
{"width": 169, "height": 114, "data": {"name": "pol"},
 "title": {"text": "(j)", "orient": "bottom", "offset": 3},
 "transform": [{"filter": "datum.panel === 'j'"}],
 "encoding": {
  "x": {"field": "pair", "type": "nominal", "sort": null, "scale": {"paddingInner": 0, "paddingOuter": 0}, "axis": {"labels": false, "grid": true, "tickBand": "extent", "title": null, "domain": false, "ticks": false}},
  "xOffset": {"field": "method", "type": "nominal", "sort": null, "scale": {"domain": ["POL (ALMO)", "POL (NEDA)", "POL+SE (NEDA)", "pol (SAPT)", "pol+exch (SAPT)", "POL (KM)", "POL (RVS)"], "paddingInner": 0, "paddingOuter": 0.5}},
  "y": {"field": "value", "type": "quantitative", "stack": null, "scale": {"domain": [-5, 0], "nice": false}, "axis": {"title": "Energy, kcal/mol", "values": [0,-0.5,-1,-1.5,-2,-2.5,-3,-3.5,-4,-4.5,-5], "labelExpr": "datum.value % 1 === 0 ? toString(datum.value) : ''"}}
 },
 "layer": [
  {"mark": {"type": "bar"}, "encoding": {"color": {"field": "method", "type": "nominal", "scale": {"domain": ["POL (ALMO)", "POL (NEDA)", "POL+SE (NEDA)", "pol (SAPT)", "pol+exch (SAPT)", "POL (KM)", "POL (RVS)"], "range": ["#7FF3F8", "#4B0C96", "#8A2ECB", "#33DD11", "#2A8F12", "#F81414", "#FF7711"]}, "legend": null}}},
  {"transform": [{"filter": "datum.method === 'POL+SE (NEDA)'"}], "mark": {"type": "bar", "fill": {"expr": "hatchPurple"}}},
  {"transform": [{"filter": "datum.method === 'pol+exch (SAPT)'"}], "mark": {"type": "bar", "fill": {"expr": "hatchGreen"}}}
 ]},
{"width": 169, "height": 114, "data": {"name": "pol"},
 "title": {"text": "(k)", "orient": "bottom", "offset": 3},
 "transform": [{"filter": "datum.panel === 'k'"}],
 "encoding": {
  "x": {"field": "pair", "type": "nominal", "sort": null, "scale": {"paddingInner": 0, "paddingOuter": 0}, "axis": {"labels": false, "grid": true, "tickBand": "extent", "title": null, "domain": false, "ticks": false}},
  "xOffset": {"field": "method", "type": "nominal", "sort": null, "scale": {"domain": ["POL (ALMO)", "POL (NEDA)", "POL+SE (NEDA)", "pol (SAPT)", "pol+exch (SAPT)", "POL (KM)", "POL (RVS)"], "paddingInner": 0, "paddingOuter": 0.5}},
  "y": {"field": "value", "type": "quantitative", "stack": null, "scale": {"domain": [-20, 0], "nice": false}, "axis": {"title": null, "values": [0,-2.5,-5,-7.5,-10,-12.5,-15,-17.5,-20], "labelExpr": "datum.value % 5 === 0 ? toString(datum.value) : ''"}}
 },
 "layer": [
  {"mark": {"type": "bar"}, "encoding": {"color": {"field": "method", "type": "nominal", "scale": {"domain": ["POL (ALMO)", "POL (NEDA)", "POL+SE (NEDA)", "pol (SAPT)", "pol+exch (SAPT)", "POL (KM)", "POL (RVS)"], "range": ["#7FF3F8", "#4B0C96", "#8A2ECB", "#33DD11", "#2A8F12", "#F81414", "#FF7711"]}, "legend": null}}},
  {"transform": [{"filter": "datum.method === 'POL+SE (NEDA)'"}], "mark": {"type": "bar", "fill": {"expr": "hatchPurple"}}},
  {"transform": [{"filter": "datum.method === 'pol+exch (SAPT)'"}], "mark": {"type": "bar", "fill": {"expr": "hatchGreen"}}}
 ]},
{"width": 169, "height": 114, "data": {"name": "pol"},
 "title": {"text": "(l)", "orient": "bottom", "offset": 3},
 "transform": [{"filter": "datum.panel === 'l'"}],
 "encoding": {
  "x": {"field": "pair", "type": "nominal", "sort": null, "scale": {"paddingInner": 0, "paddingOuter": 0}, "axis": {"labels": false, "grid": true, "tickBand": "extent", "title": null, "domain": false, "ticks": false}},
  "xOffset": {"field": "method", "type": "nominal", "sort": null, "scale": {"domain": ["POL (ALMO)", "POL (NEDA)", "POL+SE (NEDA)", "pol (SAPT)", "pol+exch (SAPT)", "POL (KM)", "POL (RVS)"], "paddingInner": 0, "paddingOuter": 0.5}},
  "y": {"field": "value", "type": "quantitative", "stack": null, "scale": {"domain": [-20, 0], "nice": false}, "axis": {"title": null, "values": [0,-2.5,-5,-7.5,-10,-12.5,-15,-17.5,-20], "labelExpr": "datum.value % 5 === 0 ? toString(datum.value) : ''"}}
 },
 "layer": [
  {"mark": {"type": "bar"}, "encoding": {"color": {"field": "method", "type": "nominal", "scale": {"domain": ["POL (ALMO)", "POL (NEDA)", "POL+SE (NEDA)", "pol (SAPT)", "pol+exch (SAPT)", "POL (KM)", "POL (RVS)"], "range": ["#7FF3F8", "#4B0C96", "#8A2ECB", "#33DD11", "#2A8F12", "#F81414", "#FF7711"]}, "legend": {"title": "Polarization", "titlePadding": 9, "encode": {"title": {"update": {"dx": {"value": -16}, "dy": {"value": 3}}}}}}}},
  {"transform": [{"filter": "datum.method === 'POL+SE (NEDA)'"}], "mark": {"type": "bar", "fill": {"expr": "hatchPurple"}}},
  {"transform": [{"filter": "datum.method === 'pol+exch (SAPT)'"}], "mark": {"type": "bar", "fill": {"expr": "hatchGreen"}}}
 ]},
{"width": 169, "height": 115, "data": {"name": "ct"},
 "view": {"stroke": null},
 "title": {"text": "(m)", "orient": "bottom", "offset": 3},
 "transform": [{"filter": "datum.panel === 'm'"}],
 "encoding": {
  "x": {"field": "pair", "type": "nominal", "sort": null, "scale": {"paddingInner": 0, "paddingOuter": 0}, "axis": {"labels": false, "grid": false, "title": null, "domain": false, "ticks": false}}
 },
 "layer": [
  {"transform": [{"filter": "indexof(['CT+BSSE (ALMO)','ct+exch (SAPT)','CT+BSSE (KM)','CT+BSSE (RVS)'], datum.method) >= 0"}],
   "encoding": {"y": {"field": "value", "type": "quantitative", "stack": null, "scale": {"domain": [-4, 0], "range": [50, 0], "nice": false}, "axis": {"orient": "left", "title": "Energy, kcal/mol", "titleY": 58, "values": [0,-0.5,-1,-1.5,-2,-2.5,-3,-3.5,-4], "labelExpr": "datum.value % 1 === 0 ? toString(datum.value) : ''"}}},
   "layer": [
    {"mark": {"type": "rule", "color": "#C4D0D4", "strokeWidth": 1}, "encoding": {"x": {"field": "pair", "type": "nominal", "sort": null, "bandPosition": 0}, "y": {"datum": -4}, "y2": {"datum": 0}}},
    {"transform": [{"filter": "datum.pair === 'H₂O H₃N'"}], "mark": {"type": "rule", "color": "#C4D0D4", "strokeWidth": 1}, "encoding": {"x": {"field": "pair", "type": "nominal", "sort": null, "bandPosition": 1}, "y": {"datum": -4}, "y2": {"datum": 0}}},
    {"mark": {"type": "bar"}, "encoding": {"xOffset": {"field": "method", "type": "nominal", "sort": null, "scale": {"domain": ["CT+BSSE (ALMO)", "ct+exch (SAPT)", "CT+BSSE (KM)", "CT+BSSE (RVS)"], "paddingInner": 0, "paddingOuter": 0.5}}, "color": {"field": "method", "type": "nominal", "scale": {"domain": ["CT+BSSE (ALMO)", "CT (NEDA)", "ct (SAPT)", "ct+exch (SAPT)", "CT+BSSE (KM)", "CT+BSSE (RVS)"], "range": ["#7FF3F8", "#4B0C96", "#33DD11", "#2A8F12", "#F81414", "#FF7711"]}, "legend": null}}},
    {"transform": [{"filter": "datum.method === 'ct+exch (SAPT)'"}], "mark": {"type": "bar", "fill": {"expr": "hatchGreen"}}, "encoding": {"xOffset": {"field": "method", "type": "nominal", "sort": null, "scale": {"domain": ["CT+BSSE (ALMO)", "ct+exch (SAPT)", "CT+BSSE (KM)", "CT+BSSE (RVS)"], "paddingInner": 0, "paddingOuter": 0.5}}}}
   ]},
  {"transform": [{"filter": "indexof(['CT (NEDA)','ct (SAPT)'], datum.method) >= 0"}],
   "encoding": {"y": {"field": "value", "type": "quantitative", "stack": null, "scale": {"domain": [-20, 0], "range": [115, 64], "nice": false}, "axis": {"orient": "left", "title": null, "values": [0,-5,-10,-15,-20], "labelExpr": "toString(datum.value)"}}},
   "layer": [
    {"mark": {"type": "rule", "color": "#C4D0D4", "strokeWidth": 1}, "encoding": {"x": {"field": "pair", "type": "nominal", "sort": null, "bandPosition": 0}, "y": {"datum": -20}, "y2": {"datum": 0}}},
    {"transform": [{"filter": "datum.pair === 'H₂O H₃N'"}], "mark": {"type": "rule", "color": "#C4D0D4", "strokeWidth": 1}, "encoding": {"x": {"field": "pair", "type": "nominal", "sort": null, "bandPosition": 1}, "y": {"datum": -20}, "y2": {"datum": 0}}},
    {"mark": {"type": "bar"}, "encoding": {"xOffset": {"field": "method", "type": "nominal", "sort": null, "scale": {"domain": ["CT (NEDA)", "ct (SAPT)"], "paddingInner": 0, "paddingOuter": 0.5}}, "color": {"field": "method", "type": "nominal", "scale": {"domain": ["CT+BSSE (ALMO)", "CT (NEDA)", "ct (SAPT)", "ct+exch (SAPT)", "CT+BSSE (KM)", "CT+BSSE (RVS)"], "range": ["#7FF3F8", "#4B0C96", "#33DD11", "#2A8F12", "#F81414", "#FF7711"]}, "legend": null}}}
   ]}
 ],
 "resolve": {"scale": {"y": "independent", "xOffset": "independent"}, "axis": {"y": "independent"}}
},
{"width": 169, "height": 115, "data": {"name": "ct"},
 "view": {"stroke": null},
 "title": {"text": "(n)", "orient": "bottom", "offset": 3},
 "transform": [{"filter": "datum.panel === 'n'"}],
 "encoding": {
  "x": {"field": "pair", "type": "nominal", "sort": null, "scale": {"paddingInner": 0, "paddingOuter": 0}, "axis": {"labels": false, "grid": false, "title": null, "domain": false, "ticks": false}}
 },
 "layer": [
  {"transform": [{"filter": "indexof(['CT+BSSE (ALMO)','ct+exch (SAPT)','CT+BSSE (KM)','CT+BSSE (RVS)'], datum.method) >= 0"}],
   "encoding": {"y": {"field": "value", "type": "quantitative", "stack": null, "scale": {"domain": [-8, 1], "range": [50, 0], "nice": false}, "axis": {"orient": "left", "title": null, "labelAngle": 90, "values": [1,0,-1,-2,-3,-4,-5,-6,-7,-8], "labelExpr": "datum.value % 2 === 0 ? toString(datum.value) : ''"}}},
   "layer": [
    {"mark": {"type": "rule", "color": "#C4D0D4", "strokeWidth": 1}, "encoding": {"x": {"field": "pair", "type": "nominal", "sort": null, "bandPosition": 0}, "y": {"datum": -8}, "y2": {"datum": 1}}},
    {"transform": [{"filter": "datum.pair === 'H₂O K⁺'"}], "mark": {"type": "rule", "color": "#C4D0D4", "strokeWidth": 1}, "encoding": {"x": {"field": "pair", "type": "nominal", "sort": null, "bandPosition": 1}, "y": {"datum": -8}, "y2": {"datum": 1}}},
    {"mark": {"type": "bar"}, "encoding": {"xOffset": {"field": "method", "type": "nominal", "sort": null, "scale": {"domain": ["CT+BSSE (ALMO)", "ct+exch (SAPT)", "CT+BSSE (KM)", "CT+BSSE (RVS)"], "paddingInner": 0, "paddingOuter": 0.5}}, "color": {"field": "method", "type": "nominal", "scale": {"domain": ["CT+BSSE (ALMO)", "CT (NEDA)", "ct (SAPT)", "ct+exch (SAPT)", "CT+BSSE (KM)", "CT+BSSE (RVS)"], "range": ["#7FF3F8", "#4B0C96", "#33DD11", "#2A8F12", "#F81414", "#FF7711"]}, "legend": null}}},
    {"transform": [{"filter": "datum.method === 'ct+exch (SAPT)'"}], "mark": {"type": "bar", "fill": {"expr": "hatchGreen"}}, "encoding": {"xOffset": {"field": "method", "type": "nominal", "sort": null, "scale": {"domain": ["CT+BSSE (ALMO)", "ct+exch (SAPT)", "CT+BSSE (KM)", "CT+BSSE (RVS)"], "paddingInner": 0, "paddingOuter": 0.5}}}}
   ]},
  {"transform": [{"filter": "indexof(['CT (NEDA)','ct (SAPT)'], datum.method) >= 0"}],
   "encoding": {"y": {"field": "value", "type": "quantitative", "stack": null, "scale": {"domain": [-40, 0], "range": [115, 64], "nice": false}, "axis": {"orient": "left", "title": null, "values": [0,-5,-10,-15,-20,-25,-30,-35,-40], "labelExpr": "datum.value % 10 === 0 ? toString(datum.value) : ''"}}},
   "layer": [
    {"mark": {"type": "rule", "color": "#C4D0D4", "strokeWidth": 1}, "encoding": {"x": {"field": "pair", "type": "nominal", "sort": null, "bandPosition": 0}, "y": {"datum": -40}, "y2": {"datum": 0}}},
    {"transform": [{"filter": "datum.pair === 'H₂O K⁺'"}], "mark": {"type": "rule", "color": "#C4D0D4", "strokeWidth": 1}, "encoding": {"x": {"field": "pair", "type": "nominal", "sort": null, "bandPosition": 1}, "y": {"datum": -40}, "y2": {"datum": 0}}},
    {"mark": {"type": "bar"}, "encoding": {"xOffset": {"field": "method", "type": "nominal", "sort": null, "scale": {"domain": ["CT (NEDA)", "ct (SAPT)"], "paddingInner": 0, "paddingOuter": 0.5}}, "color": {"field": "method", "type": "nominal", "scale": {"domain": ["CT+BSSE (ALMO)", "CT (NEDA)", "ct (SAPT)", "ct+exch (SAPT)", "CT+BSSE (KM)", "CT+BSSE (RVS)"], "range": ["#7FF3F8", "#4B0C96", "#33DD11", "#2A8F12", "#F81414", "#FF7711"]}, "legend": null}}}
   ]}
 ],
 "resolve": {"scale": {"y": "independent", "xOffset": "independent"}, "axis": {"y": "independent"}}
},
{"width": 169, "height": 115, "data": {"name": "ct"},
 "title": {"text": "(o)", "orient": "bottom", "offset": 3},
 "transform": [{"filter": "datum.panel === 'o'"}],
 "encoding": {
  "x": {"field": "pair", "type": "nominal", "sort": null, "scale": {"paddingInner": 0, "paddingOuter": 0}, "axis": {"labels": false, "grid": true, "tickBand": "extent", "title": null, "domain": false, "ticks": false}},
  "xOffset": {"field": "method", "type": "nominal", "sort": null, "scale": {"domain": ["CT+BSSE (ALMO)", "CT (NEDA)", "ct (SAPT)", "ct+exch (SAPT)", "CT+BSSE (KM)", "CT+BSSE (RVS)"], "paddingInner": 0, "paddingOuter": 0.5}},
  "y": {"field": "value", "type": "quantitative", "stack": null, "scale": {"domain": [-20, 0], "nice": false}, "axis": {"title": null, "values": [0,-2.5,-5,-7.5,-10,-12.5,-15,-17.5,-20], "labelExpr": "datum.value % 5 === 0 ? toString(datum.value) : ''"}}
 },
 "layer": [
  {"mark": {"type": "bar"}, "encoding": {"color": {"field": "method", "type": "nominal", "scale": {"domain": ["CT+BSSE (ALMO)", "CT (NEDA)", "ct (SAPT)", "ct+exch (SAPT)", "CT+BSSE (KM)", "CT+BSSE (RVS)"], "range": ["#7FF3F8", "#4B0C96", "#33DD11", "#2A8F12", "#F81414", "#FF7711"]}, "legend": {"title": "Charge Transfer", "titlePadding": 11, "encode": {"title": {"update": {"dx": {"value": -16}, "dy": {"value": 3}}}}}}}},
  {"transform": [{"filter": "datum.method === 'ct+exch (SAPT)'"}], "mark": {"type": "bar", "fill": {"expr": "hatchGreen"}}}
 ]}
],
"columns": 3,
"spacing": {"row": 35, "column": 60},
"bounds": "flush",
"resolve": {"scale": {"color": "independent", "xOffset": "independent"}, "legend": {"color": "independent"}},
"config": {
 "font": "Liberation Sans",
 "view": {"stroke": "#C4D0D4", "strokeWidth": 1},
 "axis": {"gridColor": "#C4D0D4", "gridWidth": 1, "domain": false, "ticks": false, "tickSize": 0, "labelFontSize": 11, "labelColor": "#1A1A1A", "labelFont": "Liberation Sans", "titleFont": "Liberation Sans", "titleFontSize": 11, "titleFontWeight": "normal", "titleColor": "#1A1A1A"},
 "axisY": {"minExtent": 28, "maxExtent": 28, "labelPadding": 5, "titlePadding": 3},
 "title": {"fontSize": 12, "fontWeight": "normal", "color": "#1A1A1A", "font": "Liberation Sans"},
 "legend": {"orient": "right", "offset": 11, "padding": 0, "titleFont": "Liberation Sans", "titleFontSize": 14.5, "titleFontWeight": "normal", "titleColor": "#111111", "labelFont": "Liberation Sans", "labelFontSize": 10.5, "labelColor": "#111111", "symbolType": "square", "symbolSize": 49, "symbolStrokeWidth": 0, "rowPadding": 3.4, "labelOffset": 4, "titleLimit": 220, "labelLimit": 220}
}
}
